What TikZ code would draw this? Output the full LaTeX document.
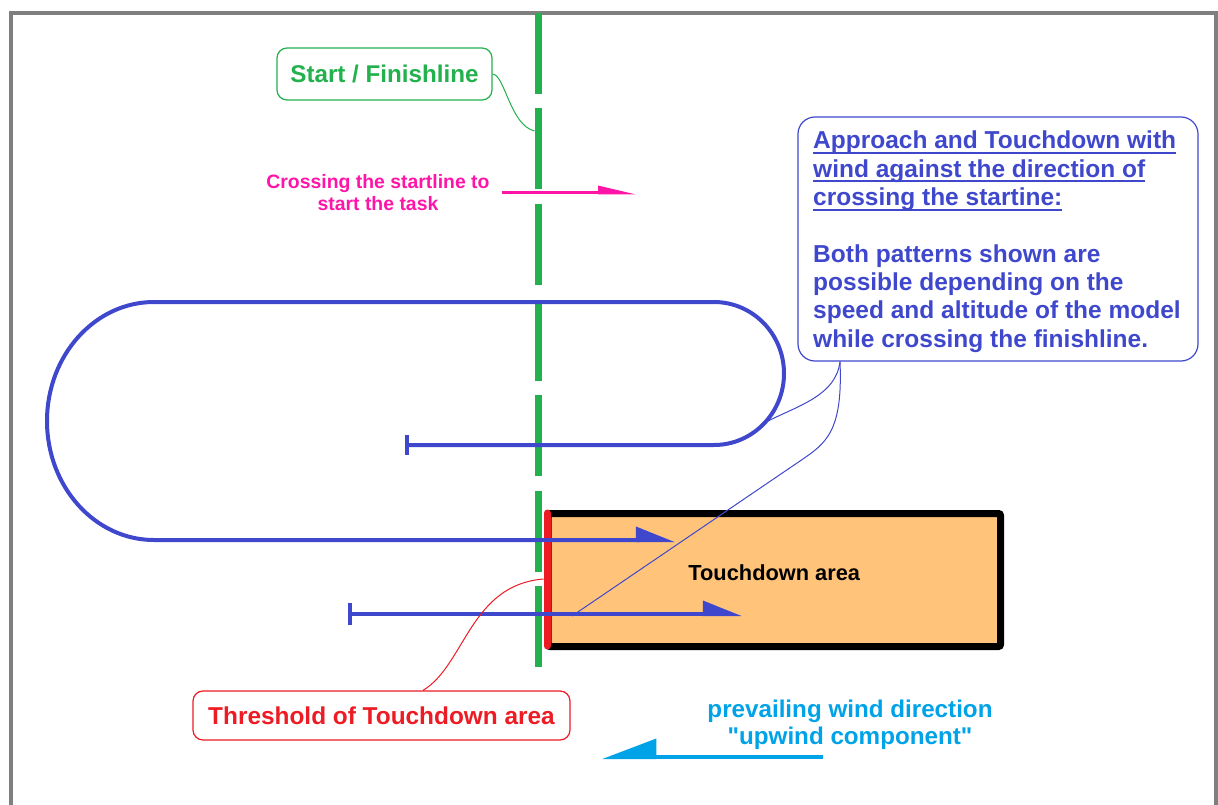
\documentclass[tikz,border=0pt]{standalone}
\usepackage{fontspec}
\setmainfont{Liberation Sans}
\newfontfamily\nomapfont[Ligatures=TeXOff]{Liberation Sans}
\usetikzlibrary{arrows.meta,calc}
\definecolor{pgreen}{HTML}{22B14C}
\definecolor{pblue}{HTML}{3F48CC}
\definecolor{ppink}{HTML}{FF14A8}
\definecolor{pred}{HTML}{ED1C24}
\definecolor{pwind}{HTML}{00A2E8}
\definecolor{porange}{HTML}{FFC47A}
\definecolor{pgray}{HTML}{7F7F7F}
\newlength\ulw
\newcommand\myul[1]{\settowidth\ulw{#1}\rlap{\rule[-5pt]{\ulw}{2pt}}#1}
\begin{document}
\begin{tikzpicture}[x=1pt,y=-1pt,
  bluepath/.style={draw=pblue,line width=4pt},
  thinblue/.style={draw=pblue,line width=1pt},
  callbox/.style={line width=1.2pt,inner sep=0pt}]
\useasboundingbox (0,0) rectangle (1218,805);
% frame
\draw[pgray,line width=4pt] (11,805) -- (11,13.5) -- (1216,13.5) -- (1216,805);
% touchdown area
\node[draw=black,line width=7pt,fill=porange,rounded corners=2pt,
  minimum width=452.5pt,minimum height=133pt,inner sep=0pt,
  text height=15pt,text depth=15pt,
  font=\bfseries\fontsize{21.8}{26}\selectfont] (td) at (774.25,580) {Touchdown area};
% threshold line
\coordinate (thrA) at (547,513);
\coordinate (thrB) at (547,646);
\coordinate (thrmid) at (543.5,579);
\draw[pred,line width=7pt,line cap=round] (thrA) -- (thrB);
% start / finish line
\coordinate (gtop) at (538,13);
\coordinate (gbot) at (538,669);
\coordinate (gl) at (534.5,131);
\draw[pgreen,line width=7pt,dash pattern=on 81pt off 14.5pt] (gtop) -- (gbot);
% flight paths
\coordinate (p1) at (405,445);
\coordinate (p1end) at (675,540);
\draw[bluepath,{Bar[width=20pt]}-{Triangle[harpoon,length=34pt,width=26pt]}]
  (p1) -- (714,445) .. controls (752.7,445) and (784,413) .. (784,373.5)
  .. controls (784,334) and (752.7,302) .. (714,302) -- (154,302)
  .. controls (94.9,302) and (47,355.3) .. (47,421)
  .. controls (47,486.7) and (94.9,540) .. (154,540) -- (p1end);
\coordinate (p2) at (348,614);
\coordinate (p2end) at (742,614);
\draw[bluepath,{Bar[width=22pt]}-{Triangle[harpoon,length=34pt,width=26pt]}] (p2) -- (p2end);
% crossing arrow
\coordinate (cA) at (502,193);
\coordinate (cB) at (637,193);
\draw[ppink,line width=3pt,-{Triangle[harpoon,length=32pt,width=14pt]}] (cA) -- (cB);
\node[anchor=base,inner sep=0pt,text=ppink,font=\bfseries\fontsize{19.4}{22}\selectfont] (cross) at (378,189)
  {\begin{tabular}[t]{@{}c@{}}Crossing the startline to\\start the task\end{tabular}};
% start / finish label
\node[callbox,draw=pgreen,text=pgreen,rounded corners=10pt,minimum width=215pt,minimum height=52pt,
  text height=17.5pt,text depth=0pt,font=\bfseries\fontsize{24.2}{28}\selectfont] (start) at (384.5,74) {Start / Finishline};
\draw[pgreen,line width=1pt] (start.east) .. controls (505,75) and (510,125) .. (gl);
% blue callout
\node[callbox,draw=pblue,rounded corners=17pt,minimum width=400pt,minimum height=244pt] (callout) at (998,239) {};
\node[anchor=base west,inner sep=0pt,text=pblue,font=\bfseries\fontsize{24.5}{28.3}\selectfont] (callouttext) at (813,149)
  {\begin{tabular}[t]{@{}l@{}}\myul{Approach and Touchdown with}\\ \myul{wind against the direction of}\\ \myul{crossing the startine:}\\ \\ Both patterns shown are\\ possible depending on the\\ speed and altitude of the model\\ while crossing the finishline.\end{tabular}};
\coordinate (ovalpt) at (768,421);
\coordinate (arrowpt) at (572,616);
\draw[thinblue] ([xshift=-158pt]callout.south) .. controls (836,395) and (800,405) .. (ovalpt);
\draw[thinblue] ([xshift=-158pt]callout.south) .. controls (843,432) and (826,443.3) .. (800,461) -- (arrowpt);
% threshold label
\node[callbox,draw=pred,text=pred,rounded corners=10pt,minimum width=377pt,minimum height=49pt,
  text height=17.5pt,text depth=0pt,font=\bfseries\fontsize{24.4}{28}\selectfont] (thr) at (381.5,715.5) {Threshold of Touchdown area};
\draw[pred,line width=1pt] ([xshift=41.5pt]thr.north) .. controls (465,665) and (470,585) .. (thrmid);
% wind
\node[anchor=base,inner sep=0pt,text=pwind,font=\nomapfont\bfseries\fontsize{24.2}{27.5}\selectfont] (windtxt) at (850,717)
  {\begin{tabular}[t]{@{}c@{}}prevailing wind direction\\"upwind component"\end{tabular}};
\coordinate (wA) at (823,757);
\coordinate (wB) at (602,757);
\draw[pwind,line width=4pt,-{Triangle[harpoon,swap,length=49pt,width=36pt]}] (wA) -- (wB);
\end{tikzpicture}
\end{document}
